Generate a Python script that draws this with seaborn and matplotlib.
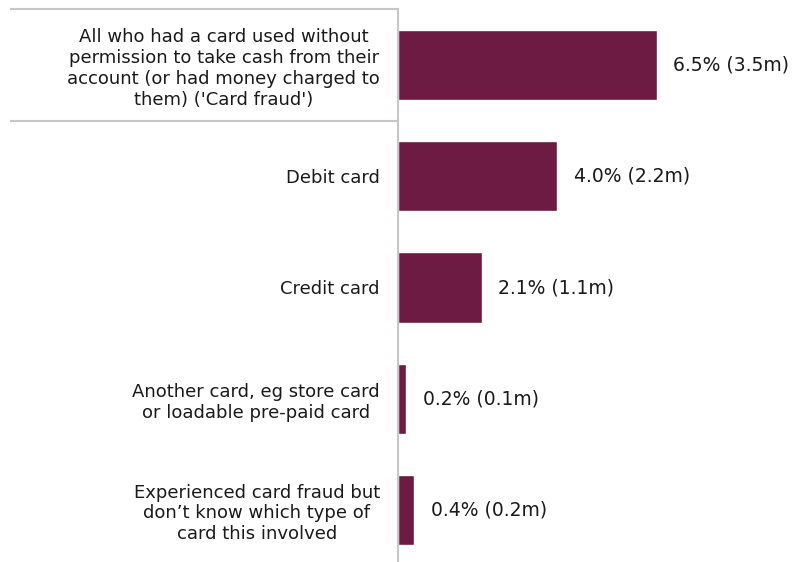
import matplotlib
matplotlib.use("Agg")
import matplotlib.pyplot as plt
import seaborn as sns
import pandas as pd

categories = [
    "All who had a card used without\npermission to take cash from their\naccount (or had money charged to\nthem) ('Card fraud')",
    "Debit card",
    "Credit card",
    "Another card, eg store card\nor loadable pre-paid card",
    "Experienced card fraud but\ndon\u2019t know which type of\ncard this involved",
]
percent = [6.5, 4.0, 2.1, 0.2, 0.4]
millions = [3.5, 2.2, 1.1, 0.1, 0.2]

df = pd.DataFrame({"category": categories, "percent": percent})

sns.set_theme(style="white")
plt.rcParams["font.family"] = ["DejaVu Sans"]

BAR = "#6d1b43"
GRID = "#c8c8c8"
TEXT = "#1a1a1a"

fig = plt.figure(figsize=(7.98, 5.62), dpi=100)
ax = fig.add_axes([398 / 798, 1 - 565.6 / 562, 398 / 798, 556.2 / 562])

sns.barplot(data=df, x="percent", y="category", orient="h", color=BAR,
            width=0.63, saturation=1, ax=ax)

ax.set_xlim(0, 10)
ax.set_ylim(4.5, -0.5)
ax.set_xlabel("")
ax.set_ylabel("")
ax.set_xticks([])

for s in ["top", "right", "bottom"]:
    ax.spines[s].set_visible(False)
ax.spines["left"].set_color(GRID)
ax.spines["left"].set_linewidth(1.5)

ax.tick_params(axis="y", length=0, pad=13, labelsize=13, labelcolor=TEXT)
for lab in ax.get_yticklabels():
    lab.set_multialignment("center")

# frame lines around the headline category
ax.hlines([-0.5, 0.5], -388 / 398, 0, transform=ax.get_yaxis_transform(),
          color=GRID, lw=1.5, clip_on=False)

for i, (p, m) in enumerate(zip(percent, millions)):
    ax.annotate(f"{p:.1f}% ({m:.1f}m)", xy=(p, i), xytext=(12, 0),
                textcoords="offset points", va="center", ha="left",
                fontsize=13.5, color=TEXT)

fig.savefig("out.png", dpi=100)
